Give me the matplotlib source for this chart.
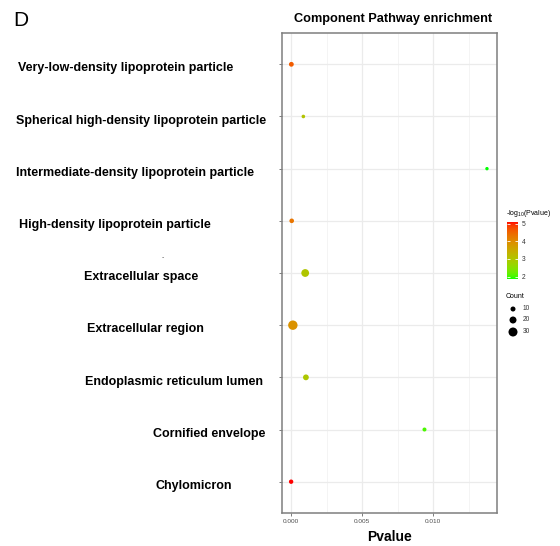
import numpy as np
import matplotlib
matplotlib.use("Agg")
import matplotlib.pyplot as plt
from matplotlib.colors import ListedColormap, Normalize
from matplotlib import transforms

# GO cellular-component terms, listed top to bottom
terms = [
    "Very-low-density lipoprotein particle",
    "Spherical high-density lipoprotein particle",
    "Intermediate-density lipoprotein particle",
    "High-density lipoprotein particle",
    "Extracellular space",
    "Extracellular region",
    "Endoplasmic reticulum lumen",
    "Cornified envelope",
    "Chylomicron",
]
pvalues = [2.5e-5, 8.7e-4, 1.38e-2, 5.0e-5, 1.0e-3, 1.3e-4, 1.05e-3, 9.4e-3, 8.0e-6]
counts = [9, 3, 2, 8, 24, 32, 14, 5, 7]

x_ticks = [0.000, 0.005, 0.010]
x_tick_labels = ["0.000", "0.005", "0.010"]
color_ticks = [2, 3, 4, 5]
count_breaks = [10, 20, 30]

# left edge (px) of each term label
label_left_px = [18, 16, 16, 19, 84, 87, 85, 153, 155]

W, H, DPI = 560, 546, 100
FONT = "Liberation Sans"
plt.rcParams["font.family"] = [FONT, "DejaVu Sans"]
plt.rcParams["mathtext.default"] = "regular"


# green -> red gradient interpolated in CIELAB
def srgb_to_lab(rgb):
    c = np.asarray(rgb, float)
    c = np.where(c <= 0.04045, c / 12.92, ((c + 0.055) / 1.055) ** 2.4)
    M = np.array([[0.4124, 0.3576, 0.1805],
                  [0.2126, 0.7152, 0.0722],
                  [0.0193, 0.1192, 0.9505]])
    xyz = M @ c / np.array([0.95047, 1.0, 1.08883])
    f = np.where(xyz > 0.008856, np.cbrt(xyz), 7.787 * xyz + 16 / 116)
    return np.array([116 * f[1] - 16, 500 * (f[0] - f[1]), 200 * (f[1] - f[2])])


def lab_to_srgb(lab):
    L, a, b = lab
    fy = (L + 16) / 116
    fx = fy + a / 500
    fz = fy - b / 200
    f = np.array([fx, fy, fz])
    xyz = np.where(f ** 3 > 0.008856, f ** 3, (f - 16 / 116) / 7.787)
    xyz = xyz * np.array([0.95047, 1.0, 1.08883])
    Minv = np.array([[3.2406, -1.5372, -0.4986],
                     [-0.9689, 1.8758, 0.0415],
                     [0.0557, -0.2040, 1.0570]])
    c = Minv @ xyz
    c = np.clip(c, 0, 1)
    c = np.where(c <= 0.0031308, 12.92 * c, 1.055 * c ** (1 / 2.4) - 0.055)
    return np.clip(c, 0, 1)


lab_lo = srgb_to_lab([0, 1, 0])
lab_hi = srgb_to_lab([1, 0, 0])
grad = [lab_to_srgb(lab_lo + t * (lab_hi - lab_lo)) for t in np.linspace(0, 1, 256)]
cmap = ListedColormap(grad)

neglog = -np.log10(np.array(pvalues))
norm = Normalize(vmin=neglog.min(), vmax=neglog.max())


def size_of(c):
    d_px = 3.0 + 0.2 * np.asarray(c, float)
    return (d_px * 72.0 / DPI) ** 2


fig = plt.figure(figsize=(W / DPI, H / DPI), dpi=DPI)
fig.patch.set_facecolor("white")

ax_l, ax_r, ax_t, ax_b = 282, 497, 33, 513
ax = fig.add_axes([ax_l / W, 1 - ax_b / H, (ax_r - ax_l) / W, (ax_b - ax_t) / H])

n = len(terms)
ypos = np.array([n - i for i in range(n)], float)

ax.scatter(pvalues, ypos, s=size_of(counts), c=cmap(norm(neglog)),
           edgecolors="none", zorder=3)

ax.set_xlim(-0.000634, 0.014507)
ax.set_ylim(0.4, n + 0.6)
ax.set_xticks(x_ticks)
ax.set_xticklabels(x_tick_labels)
ax.set_xticks([0.0025, 0.0075, 0.0125], minor=True)
ax.set_yticks(ypos)
ax.set_yticklabels([])
ax.grid(True, which="major", color="#EBEBEB", lw=0.9, zorder=0)
ax.grid(True, which="minor", axis="x", color="#F2F2F2", lw=0.6, zorder=0)
ax.set_axisbelow(True)
ax.tick_params(axis="both", which="major", length=2.5, width=0.6, color="#666666",
               labelsize=4.6, labelcolor="#4D4D4D", pad=2)
ax.tick_params(axis="both", which="minor", length=0)
for sp in ax.spines.values():
    sp.set_color("#7F7F7F")
    sp.set_linewidth(1.1)

ax.set_title("Component Pathway enrichment", fontsize=9.2, fontweight="bold",
             pad=8, x=0.518)
ax.set_xlabel("Pvalue", fontsize=10, fontweight="bold", labelpad=4)

# term labels at their own horizontal offsets
tr = transforms.blended_transform_factory(fig.transFigure, ax.transData)
for term, lx, y in zip(terms, label_left_px, ypos):
    fig.text(lx / W, y - 0.08, term, transform=tr, ha="left", va="center",
             fontsize=9.0, fontweight="bold", color="black")

fig.text(13 / W, 1 - 20 / H, "D", fontsize=15, ha="left", va="center")
fig.text(163 / W, 1 - 258 / H, "-", fontsize=5, color="#555555", ha="center", va="center")

# colour bar
cax = fig.add_axes([507 / W, 1 - 279 / H, 11 / W, 57 / H])
sm = plt.cm.ScalarMappable(norm=norm, cmap=cmap)
cb = fig.colorbar(sm, cax=cax, ticks=color_ticks)
cb.outline.set_visible(False)
cax.tick_params(length=2.2, width=0.6, color="white", direction="in",
                labelsize=4.8, labelcolor="#333333", pad=2.5)
cax.tick_params(left=True)
fig.text(506 / W, 1 - 214 / H, "-log$_{10}$(Pvalue)", fontsize=5, ha="left", va="center")

# point-size legend
fig.text(506 / W, 1 - 297 / H, "Count", fontsize=5, ha="left", va="center")
lax = fig.add_axes([503 / W, 1 - 338 / H, 40 / W, 35 / H])
lax.set_xlim(0, 40)
lax.set_ylim(338, 303)
leg_y = [309, 320, 332]
lax.scatter([10] * len(count_breaks), leg_y, s=size_of(count_breaks), c="black",
            edgecolors="none")
for b, yy in zip(count_breaks, leg_y):
    lax.text(20, yy, str(b), fontsize=4.8, va="center", ha="left", color="#333333")
lax.axis("off")

fig.savefig("out.png", dpi=DPI, facecolor="white")
